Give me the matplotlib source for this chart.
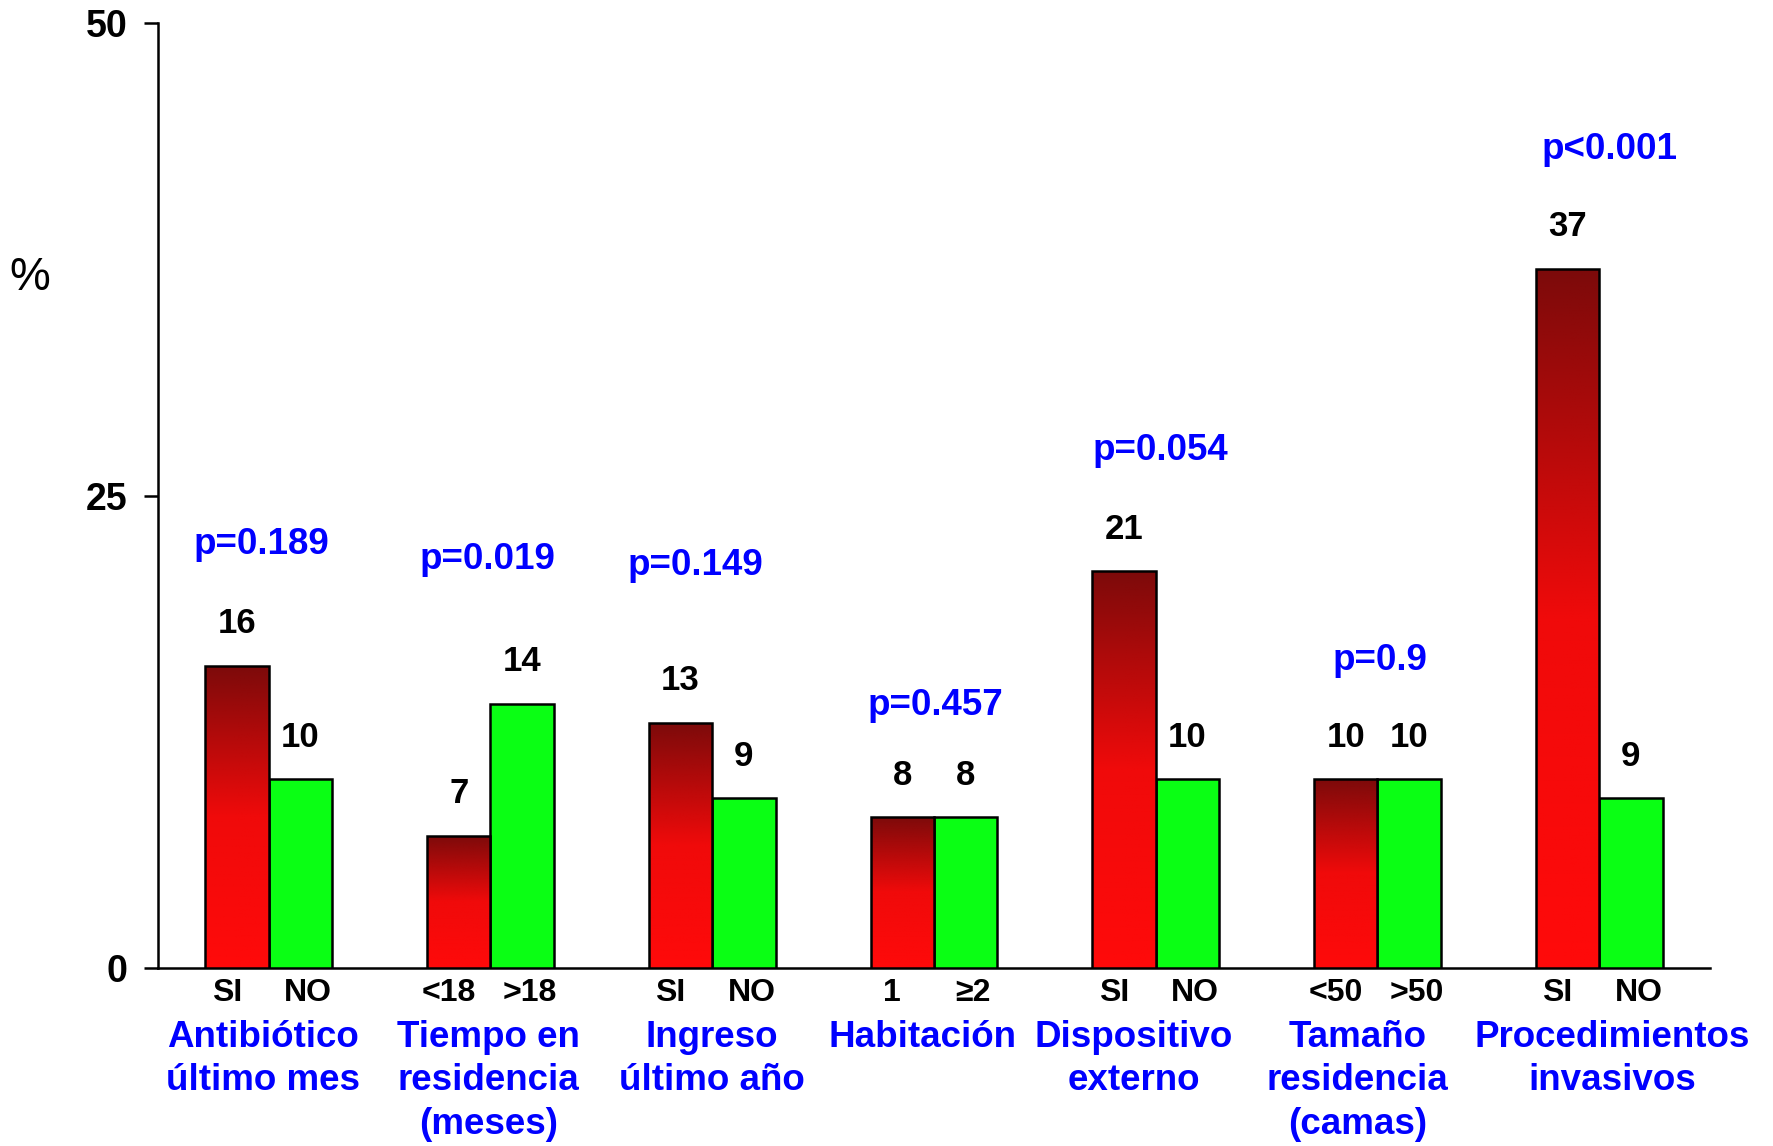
import numpy as np
import matplotlib
matplotlib.use("Agg")
import matplotlib.pyplot as plt
from matplotlib.colors import LinearSegmentedColormap

plt.rcParams['font.family'] = ['Liberation Sans', 'DejaVu Sans']
plt.rcParams['font.weight'] = 'bold'

groups = ['Antibiótico\núltimo mes', 'Tiempo en\nresidencia\n(meses)', 'Ingreso\núltimo año',
          'Habitación', 'Dispositivo\nexterno', 'Tamaño\nresidencia\n(camas)',
          'Procedimientos\ninvasivos']
left_labels = ['SI', '<18', 'SI', '1', 'SI', '<50', 'SI']
right_labels = ['NO', '>18', 'NO', '≥2', 'NO', '>50', 'NO']
red_values = [16, 7, 13, 8, 21, 10, 37]
green_values = [10, 14, 9, 8, 10, 10, 9]
p_values = ['p=0.189', 'p=0.019', 'p=0.149', 'p=0.457', 'p=0.054', 'p=0.9', 'p<0.001']

# label placement (layout only)
p_label_y = [22.4, 21.6, 21.3, 13.9, 27.4, 16.3, 43.3]
p_label_dx = [-0.035, -0.015, -0.075, 0.005, 0.02, 0.01, 0.045]
group_label_dx = [-0.025, -0.01, 0.0, -0.05, -0.1, -0.09, 0.06]

BLUE = '#0000ff'
GREEN = '#0aff14'
red_cmap = LinearSegmentedColormap.from_list('redgrad', ['#ff0a0a', '#f00a0a', '#7c0a0a'])

fig = plt.figure(figsize=(17.73, 11.46), dpi=100)
ax = fig.add_axes([0.089, 0.155, 0.8755, 0.825])

x = np.arange(len(groups))
w = 0.286
red_bars = ax.bar(x - w / 2, red_values, w, color='#ff0a0a', edgecolor='black', linewidth=1.8, zorder=3)
green_bars = ax.bar(x + w / 2, green_values, w, color=GREEN, edgecolor='black', linewidth=1.8, zorder=3)

grad = np.linspace(0, 1, 256).reshape(-1, 1)
for rect in red_bars:
    x0, h, bw = rect.get_x(), rect.get_height(), rect.get_width()
    im = ax.imshow(grad, extent=[x0, x0 + bw, 0, h], origin='lower', aspect='auto',
                   cmap=red_cmap, zorder=3.5)
    im.set_clip_path(rect)
    rect.set_facecolor('none')
    rect.set_zorder(4)

ax.set_xlim(-0.5, 6.5)
ax.set_ylim(0, 50)

for rect, v in list(zip(red_bars, red_values)) + list(zip(green_bars, green_values)):
    ax.text(rect.get_x() + rect.get_width() / 2, v + 1.35, str(v), ha='center', va='bottom',
            fontsize=25, fontweight='bold', color='black')

for xi, p, py, dx in zip(x, p_values, p_label_y, p_label_dx):
    ax.text(xi + dx, py, p, ha='center', va='center', fontsize=26.5, fontweight='bold', color=BLUE)

ax.set_xticks(np.concatenate([x - w / 2 - 0.045, x + w / 2 + 0.035]))
ax.set_xticklabels(left_labels + right_labels, fontsize=23, fontweight='bold')
ax.tick_params(axis='x', length=0, pad=7)

for xi, g, dx in zip(x, groups, group_label_dx):
    ax.text(xi + dx, -2.75, g, ha='center', va='top', fontsize=26.5, fontweight='bold', color=BLUE,
            linespacing=1.3)

ax.set_yticks([0, 25, 50])
ax.set_yticklabels(['0', '25', '50'], fontsize=27, fontweight='bold')
ax.tick_params(axis='y', length=10, width=1.8, pad=12, direction='out')

ax.spines['top'].set_visible(False)
ax.spines['right'].set_visible(False)
ax.spines['left'].set_linewidth(1.8)
ax.spines['bottom'].set_linewidth(1.8)

fig.text(0.017, 0.757, '%', fontsize=33, fontweight='normal', ha='center', va='center')

fig.savefig('out.png', dpi=100, facecolor='white')
